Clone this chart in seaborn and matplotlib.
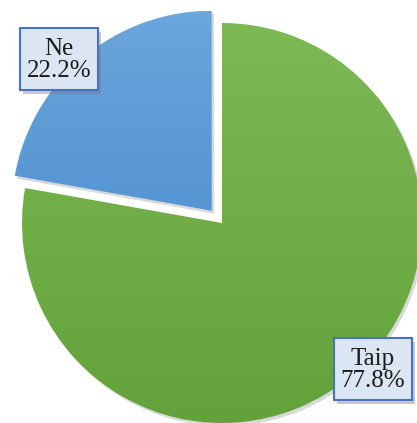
import numpy as np
import matplotlib
matplotlib.use("Agg")
import matplotlib.pyplot as plt
import matplotlib.patches as mpatches
import seaborn as sns

sns.set_style("white")
plt.rcParams['font.family'] = ['Liberation Serif', 'DejaVu Serif']

labels = ["Taip", "Ne"]
values = [77.8, 22.2]
explode = [0.0, 0.08]
# gradient colours top -> bottom
grad_top = ["#7db955", "#6ba6dc"]
grad_bottom = ["#63a23a", "#3f84c8"]
# label box lower-left corners (data units), box size
box_xy = [(0.56, -0.885), (-1.01, 0.665)]
box_w, box_h = 0.39, 0.31

fig = plt.figure(figsize=(4.17, 4.23), dpi=100)
ax = fig.add_axes([0, 0, 1, 1])

wedges, _ = ax.pie(values, explode=explode, startangle=90, counterclock=False,
                   colors=["none", "none"], radius=1.0,
                   wedgeprops=dict(linewidth=0))

for w, c0, c1 in zip(wedges, grad_top, grad_bottom):
    cx, cy = w.center
    a = np.array(matplotlib.colors.to_rgb(c0))
    b = np.array(matplotlib.colors.to_rgb(c1))
    t = np.linspace(0, 1, 256)[:, None, None]
    img = a * (1 - t) + b * t
    # soft shadow behind wedge
    sh = mpatches.Wedge((cx + 0.012, cy - 0.015), w.r, w.theta1, w.theta2,
                        facecolor="#000000", alpha=0.15, linewidth=0, zorder=0.5)
    ax.add_patch(sh)
    im = ax.imshow(img, extent=[cx - 1, cx + 1, cy - 1, cy + 1], origin="upper",
                   aspect="auto", zorder=1)
    im.set_clip_path(w)

for (x, y), lab, v in zip(box_xy, labels, values):
    ax.add_patch(mpatches.Rectangle((x + 0.015, y - 0.02), box_w, box_h,
                                    facecolor="#777777", alpha=0.4, linewidth=0, zorder=3))
    ax.add_patch(mpatches.Rectangle((x, y), box_w, box_h, facecolor="#dce6f2",
                                    edgecolor="#4472c4", linewidth=1.5, zorder=4))
    ax.text(x + box_w / 2, y + box_h / 2 - 0.005, f"{lab}\n{v:.1f}%", ha="center", va="center",
            fontsize=18, color="#1a1a1a", linespacing=1.05, zorder=5)

ax.set_xlim(-1.11, 0.975)
ax.set_ylim(-1.0, 1.115)
ax.set_aspect("auto")
ax.axis("off")

fig.savefig("out.png", dpi=100, facecolor="white")
